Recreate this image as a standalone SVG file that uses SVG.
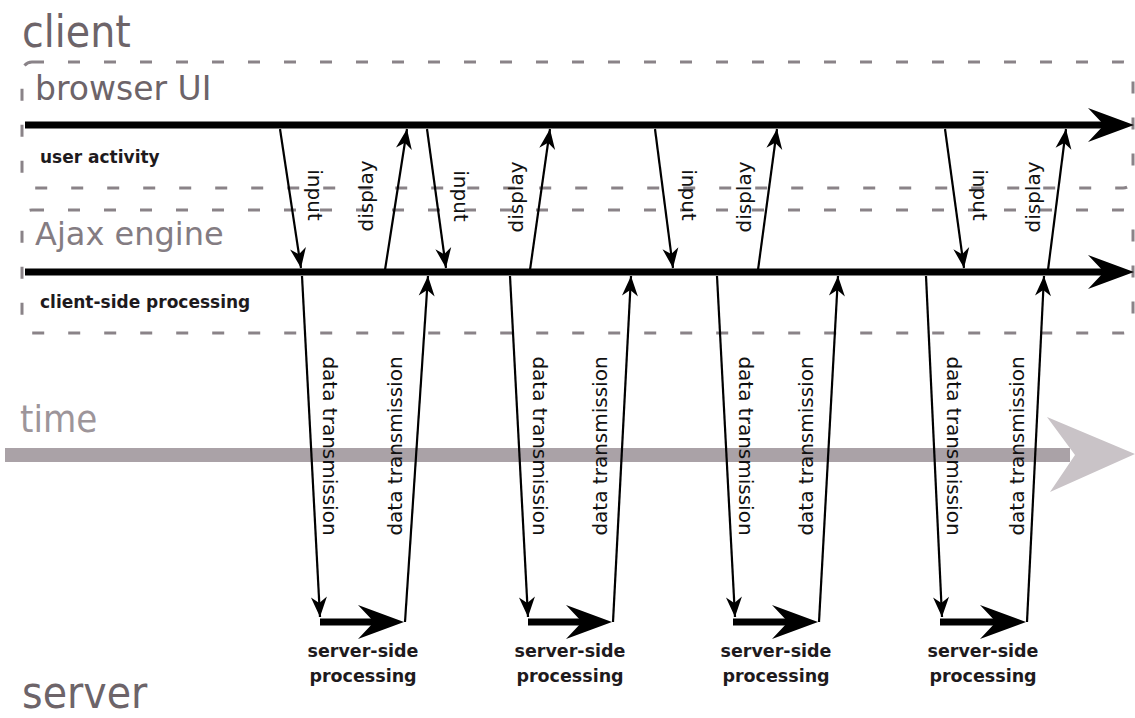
<svg xmlns="http://www.w3.org/2000/svg" xmlns:xlink="http://www.w3.org/1999/xlink" width="1135" height="718" viewBox="0 0 1135 718">
<style>
.big{font-family:"DejaVu Sans Condensed","DejaVu Sans",sans-serif;font-stretch:condensed;fill:#6d6469}
.sub{font-family:"DejaVu Sans",sans-serif;fill:#6d6469}
.bold{font-family:"DejaVu Sans",sans-serif;font-weight:bold;font-size:17px;fill:#1e1a1d}
.lbl{font-family:"DejaVu Sans",sans-serif;font-size:20px;fill:#111;text-anchor:middle;dominant-baseline:central}
.srv{font-family:"DejaVu Sans",sans-serif;font-weight:bold;font-size:17.5px;fill:#1e1a1d;text-anchor:middle}
.dash{fill:none;stroke:#8a8388;stroke-width:3;stroke-dasharray:12 24}
.thin{fill:none;stroke:#000;stroke-width:2.2;marker-end:url(#tip)}
.thick{fill:none;stroke:#000;stroke-width:7}
</style>
<defs>
<marker id="tip" markerUnits="userSpaceOnUse" viewBox="-22 -10 24 20" markerWidth="24" markerHeight="20" refX="0" refY="0" orient="auto">
<path d="M0,0 L-20,-8 L-14,0 L-20,8 Z" fill="#000"/>
</marker>
<path id="bighead" d="M0,0 L-46,-17 L-30,0 L-46,17 Z" fill="#000"/>
</defs>
<rect width="1135" height="718" fill="#fff"/>

<g id="client-label"><text class="big" x="22" y="47" font-size="44">client</text></g>
<g id="server-label"><text class="big" x="22" y="708" font-size="44">server</text></g>

<g id="browser-ui">
<rect class="dash" x="22" y="62" width="1111" height="126" rx="10"/>
<text class="sub" x="35" y="100" font-size="33">browser UI</text>
<text class="bold" x="40" y="163">user activity</text>
</g>

<g id="ajax-engine">
<rect class="dash" x="22" y="210" width="1111" height="123" rx="10"/>
<text class="sub" x="35" y="245" font-size="32" fill="#847c82" style="fill:#847c82">Ajax engine</text>
<text class="bold" x="40" y="308">client-side processing</text>
</g>

<g id="time">
<text x="20" y="432" font-family="DejaVu Sans Condensed, DejaVu Sans, sans-serif" font-size="38" fill="#9d959a">time</text>
<line x1="5" y1="455" x2="1070" y2="455" stroke="#aaa2a7" stroke-width="14"/>
<path d="M1135,454 L1047,417 L1075,455 L1050,492 Z" fill="#c9c3c7"/>
</g>

<g id="timelines">
<line class="thick" x1="25" y1="125" x2="1106" y2="125"/>
<use xlink:href="#bighead" x="1134" y="125"/>
<line class="thick" x1="25" y1="272" x2="1106" y2="272"/>
<use xlink:href="#bighead" x="1134" y="272"/>
</g>

<g id="connectors">
<path class="thin" d="M280,129 L301,268"/>
<path class="thin" d="M385,270 L407,129"/>
<path class="thin" d="M302,276 L320,617"/>
<line class="thick" x1="320" y1="622" x2="378" y2="622"/>
<use xlink:href="#bighead" x="404" y="622"/>
<path class="thin" d="M405,622 L428,276"/>

<path class="thin" d="M427,129 L446,268"/>
<path class="thin" d="M530,270 L550,129"/>
<path class="thin" d="M510,276 L528,617"/>
<line class="thick" x1="528" y1="622" x2="586" y2="622"/>
<use xlink:href="#bighead" x="612" y="622"/>
<path class="thin" d="M613,622 L631,276"/>

<path class="thin" d="M655,129 L673,268"/>
<path class="thin" d="M758,270 L777,129"/>
<path class="thin" d="M717,276 L735,617"/>
<line class="thick" x1="733" y1="622" x2="792" y2="622"/>
<use xlink:href="#bighead" x="818" y="622"/>
<path class="thin" d="M819,622 L838,276"/>

<path class="thin" d="M945,129 L964,268"/>
<path class="thin" d="M1048,270 L1066,129"/>
<path class="thin" d="M926,276 L942,617"/>
<line class="thick" x1="940" y1="622" x2="1000" y2="622"/>
<use xlink:href="#bighead" x="1026" y="622"/>
<path class="thin" d="M1027,622 L1044,276"/>
</g>

<g id="labels">
<text class="lbl" transform="translate(315,195) rotate(90)">input</text>
<text class="lbl" transform="translate(366,196) rotate(-90)">display</text>
<text class="lbl" transform="translate(461,196) rotate(90)">input</text>
<text class="lbl" transform="translate(516,197) rotate(-90)">display</text>
<text class="lbl" transform="translate(689,195) rotate(90)">input</text>
<text class="lbl" transform="translate(744,197) rotate(-90)">display</text>
<text class="lbl" transform="translate(980,195) rotate(90)">input</text>
<text class="lbl" transform="translate(1033,197) rotate(-90)">display</text>

<text class="lbl" transform="translate(330,446) rotate(90)">data transmission</text>
<text class="lbl" transform="translate(395,446) rotate(-90)">data transmission</text>
<text class="lbl" transform="translate(540,446) rotate(90)">data transmission</text>
<text class="lbl" transform="translate(600,446) rotate(-90)">data transmission</text>
<text class="lbl" transform="translate(746,446) rotate(90)">data transmission</text>
<text class="lbl" transform="translate(806,446) rotate(-90)">data transmission</text>
<text class="lbl" transform="translate(954,446) rotate(90)">data transmission</text>
<text class="lbl" transform="translate(1017,446) rotate(-90)">data transmission</text>
</g>

<g id="server-processing-1"><text class="srv" x="363" y="657">server-side</text><text class="srv" x="363" y="682">processing</text></g>
<g id="server-processing-2"><text class="srv" x="570" y="657">server-side</text><text class="srv" x="570" y="682">processing</text></g>
<g id="server-processing-3"><text class="srv" x="776" y="657">server-side</text><text class="srv" x="776" y="682">processing</text></g>
<g id="server-processing-4"><text class="srv" x="983" y="657">server-side</text><text class="srv" x="983" y="682">processing</text></g>
</svg>
